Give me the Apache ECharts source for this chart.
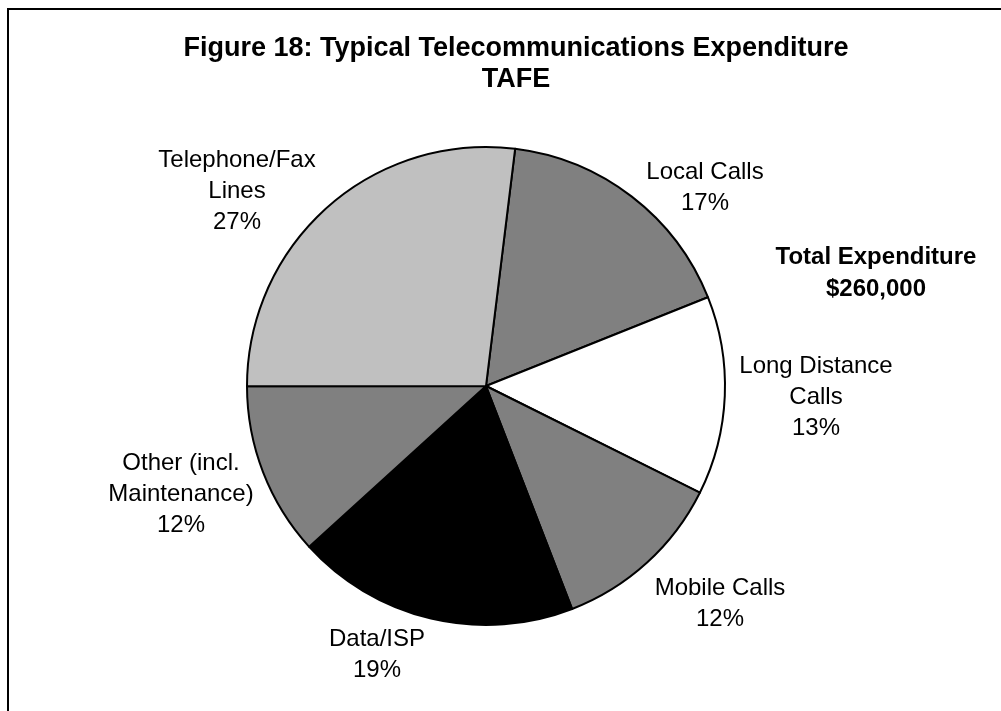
<!DOCTYPE html>
<html>
<head>
<meta charset="utf-8">
<script src="https://cdn.jsdelivr.net/npm/echarts@6/dist/echarts.min.js"></script>
<style>
  html, body { margin: 0; padding: 0; background: #fff; }
  #piechart { width: 1001px; height: 711px; }
</style>
</head>
<body>
<div id="piechart"></div>
<script>
// spend per category (AUD), clockwise from the top
const categories = ['Local Calls', 'Long Distance\nCalls', 'Mobile Calls', 'Data/ISP', 'Other (incl.\nMaintenance)', 'Telephone/Fax\nLines']
const amounts = [44200, 34900, 30600, 49700, 30500, 70100]
const sliceColors = ['#808080', '#ffffff', '#808080', '#000000', '#808080', '#c0c0c0']
// where Excel put each data label (centre of the text block)
const labelAt = [[705, 188], [816, 397], [720, 604], [377, 655], [181, 494], [237, 191]]

const total = amounts.reduce((a, b) => a + b, 0)
const font = '"Liberation Sans", Arial, sans-serif'

const chart = echarts.init(document.getElementById('piechart'))
chart.setOption({
  animation: false,
  title: {
    text: 'Figure 18: Typical Telecommunications Expenditure\nTAFE',
    left: 511,
    top: 28,
    textAlign: 'center',
    textStyle: {
      fontFamily: font,
      fontSize: 27,
      fontWeight: 'bold',
      color: '#000',
      lineHeight: 31
    }
  },
  graphic: [
    {
      type: 'rect',
      shape: { x: 8, y: 9, width: 1200, height: 900 },
      style: { fill: 'none', stroke: '#000', lineWidth: 2 },
      silent: true
    },
    {
      type: 'text',
      x: 876,
      y: 273,
      style: {
        text: 'Total Expenditure\n$' + total.toLocaleString('en-US'),
        fontFamily: font,
        fontSize: 24,
        fontWeight: 'bold',
        lineHeight: 32,
        fill: '#000',
        align: 'center',
        verticalAlign: 'middle'
      }
    }
  ],
  series: [
    {
      type: 'pie',
      center: [486, 386],
      radius: 239,
      startAngle: 83,
      clockwise: true,
      avoidLabelOverlap: false,
      emphasis: { disabled: true },
      itemStyle: { borderColor: '#000', borderWidth: 2 },
      label: {
        show: true,
        position: 'outside',
        formatter: p => p.name + '\n' + Math.round(p.percent) + '%',
        fontFamily: font,
        fontSize: 24,
        lineHeight: 31,
        color: '#000',
        align: 'center'
      },
      labelLine: { show: false },
      labelLayout: p => ({
        x: labelAt[p.dataIndex][0],
        y: labelAt[p.dataIndex][1],
        align: 'center',
        verticalAlign: 'middle'
      }),
      data: categories.map((name, i) => ({
        name: name,
        value: amounts[i],
        itemStyle: { color: sliceColors[i] }
      }))
    }
  ]
})
</script>
</body>
</html>
